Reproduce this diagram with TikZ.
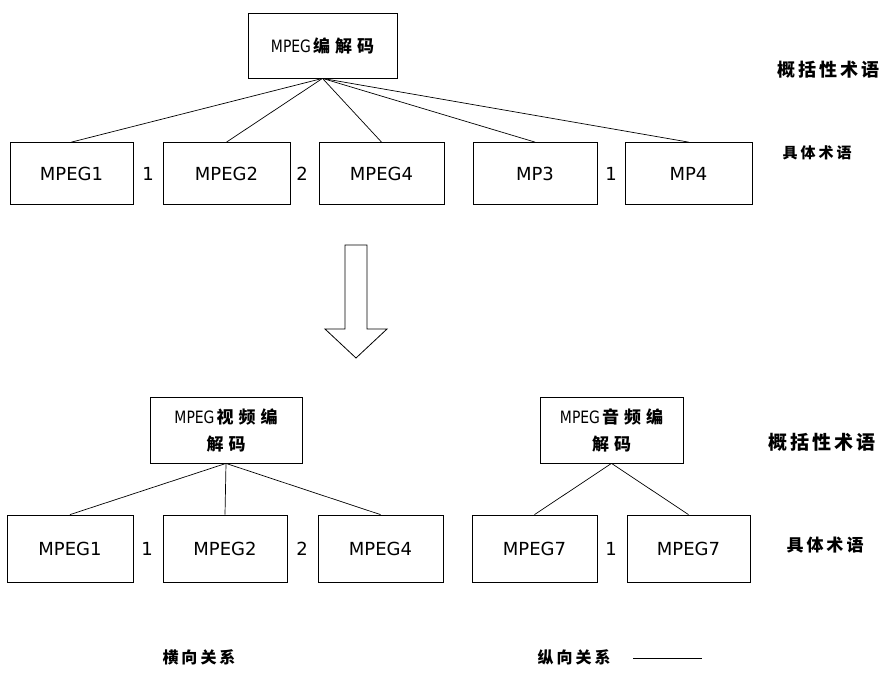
\documentclass[tikz,border=0pt]{standalone}
\usepackage{fontspec}
\setmainfont{DejaVu Sans}
\newfontfamily\cjk{Noto Sans CJK SC}
\newfontfamily\narrow[FakeStretch=0.82]{DejaVu Sans}
\newcommand\zh[1]{{\cjk\bfseries #1}}
\newcommand\gp{\kern5pt}
\newcommand\sg{\kern3pt}

\tikzset{
  term/.style={draw, line width=0.8pt, minimum height=62pt, inner sep=0pt,
               font=\fontsize{18}{22}\selectfont},
  group/.style={draw, line width=0.8pt, inner sep=0pt, align=center,
                minimum height=66pt, font=\fontsize{17}{27}\selectfont},
  num/.style={inner sep=0pt, font=\fontsize{18}{22}\selectfont},
  side/.style={inner sep=0pt},
  link/.style={line width=0.7pt},
}

\begin{document}
\begin{tikzpicture}[x=1pt,y=-1pt]
\useasboundingbox (0,0) rectangle (880,672);

% ---- upper tree: one general term over five specific terms ----
\node[group, minimum width=149pt, minimum height=65pt] (top) at (322.5,45.5)
  {\narrow MPEG\zh{\kern2pt 编\gp 解\gp 码}};

\node[term, minimum width=123pt] (a1) at (71.5,173.5) {MPEG1};
\node[term, minimum width=127pt] (a2) at (226.5,173.5) {MPEG2};
\node[term, minimum width=125pt] (a3) at (381.5,173.5) {MPEG4};
\node[term, minimum width=124pt] (a4) at (535,173.5) {MP3};
\node[term, minimum width=127pt] (a5) at (688.5,173.5) {MP4};

\node[num] (n1) at (148,173.5) {1};
\node[num] (n2) at (302,173.5) {2};
\node[num] (n3) at (611,173.5) {1};

\foreach \c in {a1,a2,a3,a4,a5}
  \draw[link] (top.south) -- (\c.north);

\node[side, font=\fontsize{18}{20}\selectfont\cjk\bfseries] (g1) at (828,70)
  {概\sg 括\sg 性\sg 术\sg 语};
\node[side, font=\fontsize{15}{18}\selectfont\cjk\bfseries] (s1) at (817,153)
  {具\sg 体\sg 术\sg 语};

% ---- hollow arrow between the two trees ----
\draw[line width=0.8pt, fill=white]
  (345,245) -- (367,245) -- (367,329) -- (387,329) -- (356,358)
  -- (325,329) -- (345,329) -- cycle;

% ---- lower trees: video and audio branches ----
\node[group, minimum width=152pt] (pv) at (226,430)
  {\narrow MPEG\zh{\kern2pt 视\gp 频\gp 编}\\ \zh{解\gp 码}};
\node[group, minimum width=143pt] (pa) at (611.5,430)
  {\narrow MPEG\zh{\kern2pt 音\gp 频\gp 编}\\ \zh{解\gp 码}};

\node[term, minimum width=126pt, minimum height=67pt] (b1) at (70,548.5) {MPEG1};
\node[term, minimum width=124pt, minimum height=67pt] (b2) at (225,548.5) {MPEG2};
\node[term, minimum width=125pt, minimum height=67pt] (b3) at (380.5,548.5) {MPEG4};
\node[term, minimum width=125pt, minimum height=67pt] (b4) at (534.5,548.5) {MPEG7};
\node[term, minimum width=123pt, minimum height=67pt] (b5) at (688.5,548.5) {MPEG7};

\node[num] (m1) at (147,548.5) {1};
\node[num] (m2) at (302,548.5) {2};
\node[num] (m3) at (611,548.5) {1};

\foreach \c in {b1,b2,b3}
  \draw[link] (pv.south) -- (\c.north);
\foreach \c in {b4,b5}
  \draw[link] (pa.south) -- (\c.north);

\node[side, font=\fontsize{19}{20}\selectfont\cjk\bfseries] (g2) at (822,442)
  {概\sg 括\sg 性\sg 术\sg 语};
\node[side, font=\fontsize{17}{20}\selectfont\cjk\bfseries] (s2) at (825,545)
  {具\sg 体\sg 术\sg 语};

% ---- legend ----
\node[side, font=\fontsize{16}{18}\selectfont\cjk\bfseries] (lh) at (199,657)
  {横\sg 向\sg 关\sg 系};
\node[side, font=\fontsize{16}{18}\selectfont\cjk\bfseries] (lv) at (574,657)
  {纵\sg 向\sg 关\sg 系};
\coordinate (ls) at (633,658);
\coordinate (le) at (702,658);
\draw[line width=0.8pt] (ls) -- (le);
\end{tikzpicture}
\end{document}
